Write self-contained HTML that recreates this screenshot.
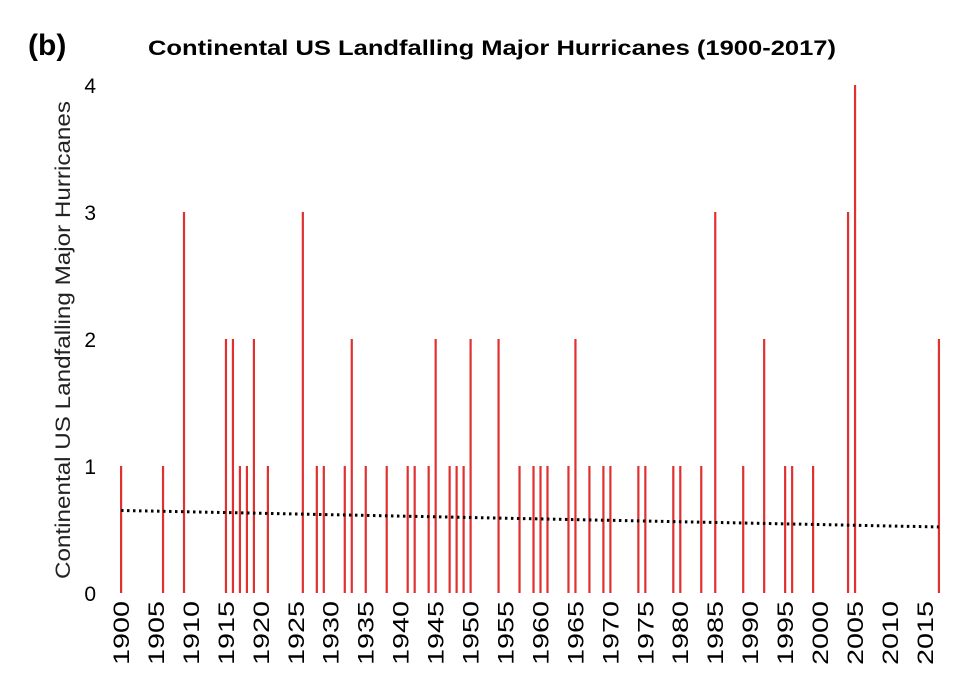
<!DOCTYPE html>
<html><head><meta charset="utf-8"><style>
html,body{margin:0;padding:0;background:#fff;}
svg{display:block;font-family:"Liberation Sans","DejaVu Sans",sans-serif;}
</style></head><body>
<svg id="chart" width="959" height="676">
<text x="28" y="55" font-size="30" font-weight="bold" fill="#000">(b)</text>
<text x="148" y="55" font-size="21" font-weight="bold" textLength="688" lengthAdjust="spacingAndGlyphs" fill="#000">Continental US Landfalling Major Hurricanes (1900-2017)</text>
<text transform="translate(70,340) rotate(-90)" font-size="21" text-anchor="middle" textLength="478" lengthAdjust="spacingAndGlyphs" fill="#222">Continental US Landfalling Major Hurricanes</text>
<g id="yticks"></g><g id="bars"></g><g id="trend"></g><g id="xticks"></g>
</svg>
<script>
const years = [1900,1906,1909,1915,1916,1917,1918,1919,1921,1926,1928,1929,1932,1933,1935,1938,1941,1942,1944,1945,1947,1948,1949,1950,1954,1957,1959,1960,1961,1964,1965,1967,1969,1970,1974,1975,1979,1980,1983,1985,1989,1992,1995,1996,1999,2004,2005,2017];
const counts = [1,1,3,2,2,1,1,2,1,3,1,1,1,2,1,1,1,1,1,2,1,1,1,2,2,1,1,1,1,1,2,1,1,1,1,1,1,1,1,3,1,2,1,1,1,3,4,2];
const yTicks = [0,1,2,3,4];
const xTickYears = [1900,1905,1910,1915,1920,1925,1930,1935,1940,1945,1950,1955,1960,1965,1970,1975,1980,1985,1990,1995,2000,2005,2010,2015];
const trendStart = [1900,0.65];
const trendEnd = [2017,0.52];
const NS="http://www.w3.org/2000/svg";
const xs = y => 121 + (y-1900)*6.99;
const ys = v => 593 - v*127;
function mk(t,a,p){const e=document.createElementNS(NS,t);for(const k in a)e.setAttribute(k,a[k]);p.appendChild(e);return e;}
const yt=document.getElementById('yticks');
yTicks.forEach(v=>{const t=mk('text',{x:96,y:ys(v)+8,'font-size':21,'text-anchor':'end',fill:'#000'},yt);t.textContent=v;

});
const b=document.getElementById('bars');
years.forEach((yr,i)=>{const r=mk('rect',{x:xs(yr)-1,y:ys(counts[i]),width:2.2,height:ys(0)-ys(counts[i]),fill:'#e03030'},b);

});
const tr=mk('line',{x1:xs(trendStart[0]),y1:ys(trendStart[1]),x2:xs(trendEnd[0]),y2:ys(trendEnd[1]),stroke:'#000','stroke-width':3,'stroke-dasharray':'2.5 3.5'},document.getElementById('trend'));


const xt=document.getElementById('xticks');
xTickYears.forEach(yr=>{const t=mk('text',{transform:`translate(${xs(yr)+8},665) rotate(-90)`,'font-size':22,textLength:64,lengthAdjust:'spacingAndGlyphs',fill:'#000'},xt);t.textContent=yr;

});
</script>
</body></html>
